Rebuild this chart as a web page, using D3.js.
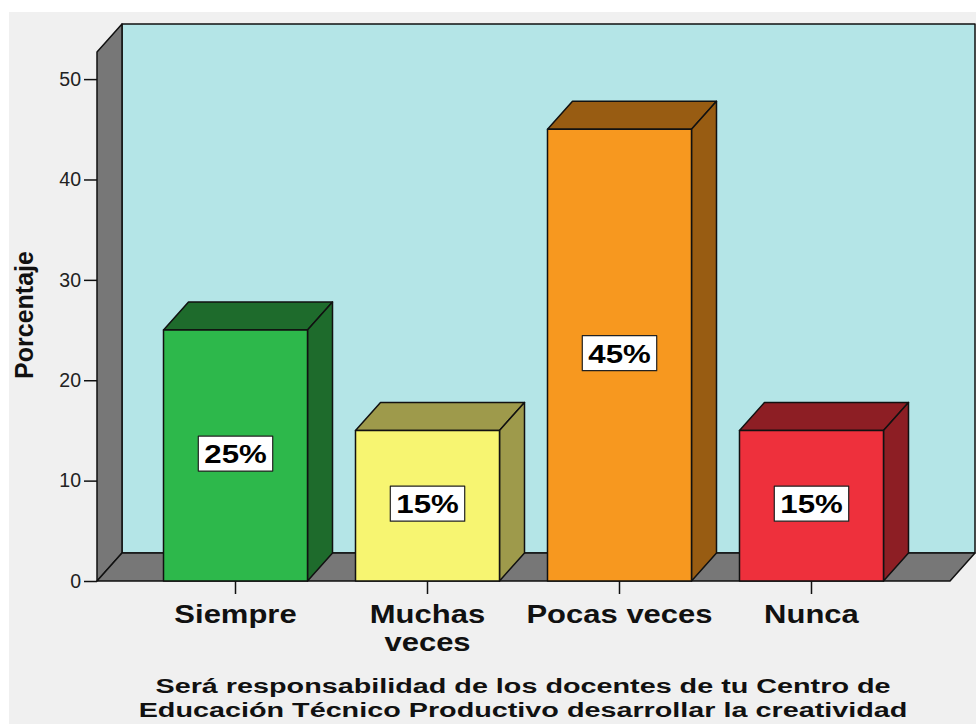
<!DOCTYPE html>
<html>
<head>
<meta charset="utf-8">
<script src="https://cdn.jsdelivr.net/npm/d3@7"></script>
<style>
  body { margin: 0; background: #fff; }
  svg { display: block; }
</style>
</head>
<body>
<svg id="chart"></svg>
<script>
const width = 976
const height = 724

// data
const categories = ["Siempre", "Muchas veces", "Pocas veces", "Nunca"]
const categoryLines = [["Siempre"], ["Muchas", "veces"], ["Pocas veces"], ["Nunca"]]
const percentages = [25, 15, 45, 15]
const yTicks = [0, 10, 20, 30, 40, 50]
const yTitle = "Porcentaje"
const xTitle = ["Será responsabilidad de los docentes de tu Centro de",
                "Educación Técnico Productivo desarrollar la creatividad"]

// colours per bar: front face, top/side face
const frontColors = ["#2db84b", "#f7f571", "#f7981f", "#ee303c"]
const sideColors = ["#1e6b2c", "#9e9a4b", "#985c12", "#8d1e24"]

// 3d depth offset
const dx = 25, dy = 28
const yMax = 52.7

const x = d3.scaleBand()
    .domain(categories)
    .range([97, 950])
    .paddingInner(0.25)
    .paddingOuter(0.3464)

const y = d3.scaleLinear()
    .domain([0, yMax])
    .range([581, 52])

const svg = d3.select("#chart")
    .attr("width", width)
    .attr("height", height)
    .style("font-family", "'Liberation Sans', Arial, sans-serif")

svg.append("rect")
    .attr("x", 9).attr("y", 12)
    .attr("width", width - 9).attr("height", height - 12)
    .attr("fill", "#f0f0f0")

const [x0, x1] = x.range()
const y0 = y(0), yT = y(yMax)
const line = d3.line()

// walls
const walls = svg.append("g").attr("stroke", "#111").attr("stroke-width", 1.5).attr("stroke-linejoin", "round")
walls.append("path")
    .attr("fill", "#b4e5e7")
    .attr("d", line([[x0 + dx, yT - dy], [x1 + dx, yT - dy], [x1 + dx, y0 - dy], [x0 + dx, y0 - dy]]) + "Z")
walls.append("path")
    .attr("fill", "#777777")
    .attr("d", line([[x0, yT], [x0 + dx, yT - dy], [x0 + dx, y0 - dy], [x0, y0]]) + "Z")
walls.append("path")
    .attr("fill", "#777777")
    .attr("d", line([[x0, y0], [x0 + dx, y0 - dy], [x1 + dx, y0 - dy], [x1, y0]]) + "Z")

// bars
const bars = svg.append("g")
    .selectAll("g")
    .data(categories.map((c, i) => ({ cat: c, value: percentages[i], i })))
    .join("g")
    .attr("stroke", "#111")
    .attr("stroke-width", 1.5)
    .attr("stroke-linejoin", "round")

bars.append("path")
    .attr("fill", d => sideColors[d.i])
    .attr("d", d => {
        const a = x(d.cat), b = a + x.bandwidth(), t = y(d.value)
        return line([[a, t], [a + dx, t - dy], [b + dx, t - dy], [b, t]]) + "Z"
    })
bars.append("path")
    .attr("fill", d => sideColors[d.i])
    .attr("d", d => {
        const b = x(d.cat) + x.bandwidth(), t = y(d.value)
        return line([[b, t], [b + dx, t - dy], [b + dx, y0 - dy], [b, y0]]) + "Z"
    })
bars.append("rect")
    .attr("fill", d => frontColors[d.i])
    .attr("x", d => x(d.cat))
    .attr("y", d => y(d.value))
    .attr("width", x.bandwidth())
    .attr("height", d => y0 - y(d.value))

// value labels
const sxLabel = 1.2
bars.each(function (d) {
    const g = d3.select(this)
    const cx = x(d.cat) + x.bandwidth() / 2
    const cy = (y(d.value) + y0) / 2 - 2
    const box = g.append("rect")
        .attr("fill", "#fff")
        .attr("stroke", "#222")
        .attr("stroke-width", 1.2)
    const t = g.append("text")
        .attr("stroke", "none")
        .attr("fill", "#000")
        .attr("font-weight", "bold")
        .attr("font-size", 26)
        .attr("text-anchor", "middle")
        .attr("transform", `translate(${cx},${cy + 9.5}) scale(${sxLabel},1)`)
        .text(d.value + "%")
    const w = t.node().getComputedTextLength() * sxLabel + 12
    box.attr("x", cx - w / 2).attr("y", cy - 17.5).attr("width", w).attr("height", 35)
})

// axes
const yAxis = g => g
    .attr("transform", `translate(${x0},0)`)
    .call(d3.axisLeft(y).tickValues(yTicks).tickSize(13).tickPadding(3))
    .call(g => g.select(".domain").remove())
    .call(g => g.selectAll(".tick line").attr("stroke", "#111").attr("stroke-width", 1.5))
    .call(g => g.selectAll(".tick text").attr("fill", "#222").attr("font-size", 19.5)
        .attr("font-family", "'Liberation Sans', Arial, sans-serif"))

const xAxis = g => g
    .attr("transform", `translate(0,${y0})`)
    .call(d3.axisBottom(x).tickSize(13).tickFormat(""))
    .call(g => g.select(".domain").remove())
    .call(g => g.selectAll(".tick line").attr("stroke", "#111").attr("stroke-width", 1.5))

svg.append("g").call(yAxis)
svg.append("g").call(xAxis)

// category labels
const sxCat = 1.24
categories.forEach((c, i) => {
    const cx = x(c) + x.bandwidth() / 2
    categoryLines[i].forEach((l, j) => {
        svg.append("text")
            .attr("font-weight", "bold")
            .attr("font-size", 25)
            .attr("fill", "#111")
            .attr("text-anchor", "middle")
            .attr("transform", `translate(${cx},${623 + j * 28}) scale(${sxCat},1)`)
            .text(l)
    })
})

// axis titles
svg.append("text")
    .attr("font-weight", "bold")
    .attr("font-size", 25)
    .attr("fill", "#111")
    .attr("text-anchor", "middle")
    .attr("transform", "translate(33,315) rotate(-90)")
    .text(yTitle)

xTitle.forEach((l, j) => {
    svg.append("text")
        .attr("font-weight", "bold")
        .attr("font-size", 21)
        .attr("fill", "#111")
        .attr("text-anchor", "middle")
        .attr("transform", `translate(523,${693 + j * 24}) scale(1.37,1)`)
        .text(l)
})
</script>
</body>
</html>
